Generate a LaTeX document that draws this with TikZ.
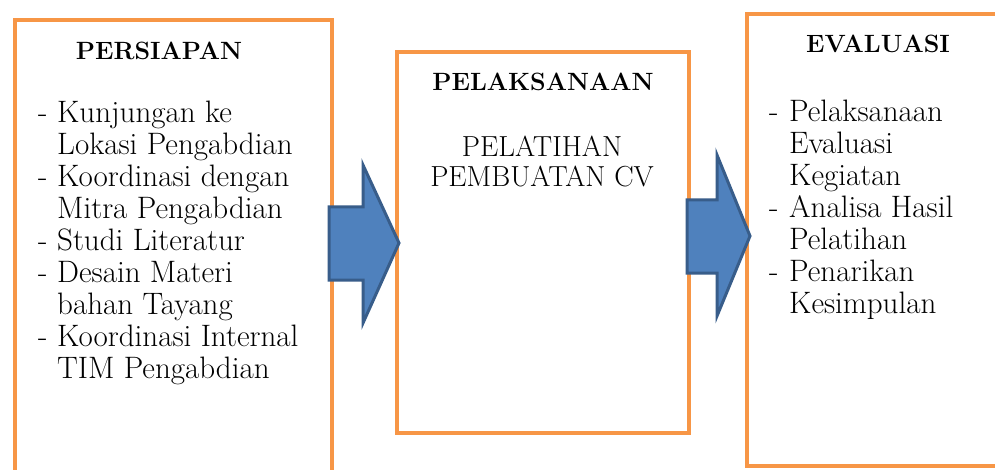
\documentclass[tikz,border=0pt]{standalone}
\usepackage{fontspec}
\usepackage{array}
\definecolor{boxorange}{HTML}{F79646}
\definecolor{arrowfill}{HTML}{4F81BD}
\definecolor{arrowline}{HTML}{385D8A}
\begin{document}
\begin{tikzpicture}[x=1pt,y=-1pt]
            \tikzstyle{stage}=[draw=boxorange,line width=4.5pt,fill=white,inner sep=0pt]
            \tikzstyle{head}=[inner sep=0pt,font=\fontsize{25}{28}\selectfont\bfseries]
            \tikzstyle{body}=[inner sep=0pt,font=\fontsize{31}{32}\selectfont]
            \tikzstyle{blockarrow}=[fill=arrowfill,draw=arrowline,line width=3pt,line join=miter]
            \useasboundingbox[fill=white] (0,0) rectangle (995,470);
            % three stages
            \node[stage,minimum width=317pt,minimum height=470pt] (persiapan) at (173.5,255) {};
            \node[stage,minimum width=292pt,minimum height=381pt] (pelaksanaan) at (543,242.5) {};
            \node[stage,minimum width=263pt,minimum height=452pt] (evaluasi) at (878.5,240) {};
            % stage 1 text
            \node[head,anchor=base] (persiapan_title) at (159,60) {PERSIAPAN};
            \node[body,anchor=base west] (persiapan_list) at (38,123) {%
                \begin{tabular}[t]{@{}p{19pt}@{}l@{}}
                -&Kunjungan ke\\
                 &Lokasi Pengabdian\\
                -&Koordinasi dengan\\
                 &Mitra Pengabdian\\
                -&Studi Literatur\\
                -&Desain Materi\\
                 &bahan Tayang\\
                -&Koordinasi Internal\\
                 &TIM Pengabdian
                \end{tabular}};
            % stage 2 text
            \node[head,anchor=base] (pelaksanaan_title) at (543,91) {PELAKSANAAN};
            \node[body,anchor=base,align=center,font=\fontsize{29}{30}\selectfont] (pelaksanaan_text) at (542,187) {PELATIHAN\\PEMBUATAN CV};
            % stage 3 text
            \node[head,anchor=base] (evaluasi_title) at (878,53) {EVALUASI};
            \node[body,anchor=base west] (evaluasi_list) at (769,122) {%
                \begin{tabular}[t]{@{}p{20pt}@{}l@{}}
                -&Pelaksanaan\\
                 &Evaluasi\\
                 &Kegiatan\\
                -&Analisa Hasil\\
                 &Pelatihan\\
                -&Penarikan\\
                 &Kesimpulan
                \end{tabular}};
            % block arrows between stages
            \draw[blockarrow] (329,207) -- (363,207) -- (363,165) -- (399,243)
                -- (363,323) -- (363,280) -- (329,280) -- cycle;
            \draw[blockarrow] (687,200) -- (717,200) -- (717,155) -- (750,236)
                -- (717,316) -- (717,273) -- (687,273) -- cycle;
        \end{tikzpicture}
\end{document}
